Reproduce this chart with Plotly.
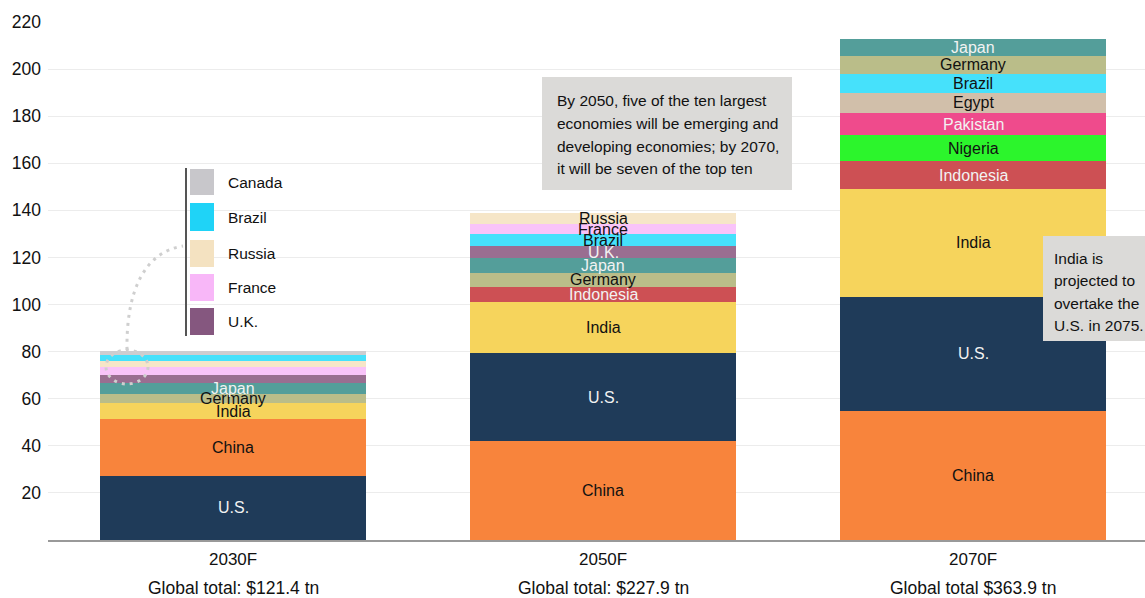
import plotly.graph_objects as go

# ---------------- data ----------------
year_labels = ["2030F", "2050F", "2070F"]
total_labels = ["Global total: $121.4 tn", "Global total: $227.9 tn", "Global total $363.9 tn"]

countries_2030 = ["U.S.", "China", "India", "Germany", "Japan", "U.K.", "France", "Russia", "Brazil", "Canada"]
values_2030 = [27.2, 24.3, 6.5, 4.2, 4.5, 3.4, 3.2, 2.8, 2.3, 2.0]
labels_2030 = ["U.S.", "China", "India", "Germany", "Japan", "", "", "", "", ""]

countries_2050 = ["China", "U.S.", "India", "Indonesia", "Germany", "Japan", "U.K.", "Brazil", "France", "Russia"]
values_2050 = [41.9, 37.4, 21.9, 6.4, 5.9, 6.1, 5.3, 4.9, 4.4, 4.8]
labels_2050 = countries_2050

countries_2070 = ["China", "U.S.", "India", "Indonesia", "Nigeria", "Pakistan", "Egypt", "Brazil", "Germany", "Japan"]
values_2070 = [54.8, 48.5, 45.7, 12.0, 10.8, 9.6, 8.6, 8.1, 7.4, 7.3]
labels_2070 = countries_2070

legend_items = ["Canada", "Brazil", "Russia", "France", "U.K."]

note_1 = ["By 2050, five of the ten largest", "economies will be emerging and",
          "developing economies; by 2070,", "it will be seven of the top ten"]
note_2 = ["India is", "projected to", "overtake the", "U.S. in 2075."]

# ---------------- styles ----------------
colors = {
    "U.S.": "#1f3b59", "China": "#f8843c", "India": "#f6d45c", "Indonesia": "#cd5054",
    "Germany": "#babd89", "Japan": "#549e9a", "U.K.": "#9a6e91", "Brazil": "#46e1fb",
    "France": "#f9c3f9", "Russia": "#f6e6c8", "Canada": "#cdcdd0", "Nigeria": "#2cf52c",
    "Pakistan": "#ef4b8c", "Egypt": "#d1bfaa",
}
legend_colors = {"Canada": "#c8c7cb", "Brazil": "#1fd3f7", "Russia": "#f4e2c1",
                 "France": "#f8b7f8", "U.K.": "#85577f"}
white_text = {"U.S.", "Japan", "U.K.", "Indonesia", "Pakistan"}
FONT = "Liberation Sans, Arial, sans-serif"

# plot-area geometry (pixels)
W_FIG, H_FIG = 1145, 598
L, R, T, B = 48, 1145, 22, 540
def px(x):
    return (x - L) / (R - L)
def py(y):
    return (B - y) / (B - T)

fig = go.Figure()
annotations = []

years = [(countries_2030, values_2030, labels_2030),
         (countries_2050, values_2050, labels_2050),
         (countries_2070, values_2070, labels_2070)]

for i, (cs, vs, lbs) in enumerate(years):
    cum = 0.0
    for c, v, lb in zip(cs, vs, lbs):
        fig.add_trace(go.Bar(
            x=[i], y=[v], base=[cum], width=0.72,
            marker=dict(color=colors[c], line=dict(width=0)),
            showlegend=False, hoverinfo="skip", name=c,
        ))
        if lb:
            annotations.append(dict(
                x=i, y=cum + v / 2, xref="x", yref="y", text=lb, showarrow=False,
                font=dict(family=FONT, size=16,
                          color="#f2f2f2" if c in white_text else "#111111"),
                xanchor="center", yanchor="middle",
            ))
        cum += v

# x category labels
for i, (yl, tl) in enumerate(zip(year_labels, total_labels)):
    annotations.append(dict(x=i, y=py(559), xref="x", yref="paper", text=yl,
                            showarrow=False, font=dict(family=FONT, size=17, color="#111"),
                            xanchor="center", yanchor="middle"))
    annotations.append(dict(x=i, y=py(588), xref="x", yref="paper", text=tl,
                            showarrow=False, font=dict(family=FONT, size=17.5, color="#111"),
                            xanchor="center", yanchor="middle"))

shapes = []
# legend
legend_boxes = [(169, 195), (203, 231), (240, 267), (274, 301), (308, 335)]
for name, (y0, y1) in zip(legend_items, legend_boxes):
    shapes.append(dict(type="rect", xref="paper", yref="paper",
                       x0=px(190), x1=px(214), y0=py(y1), y1=py(y0),
                       fillcolor=legend_colors[name], line=dict(width=0)))
    annotations.append(dict(x=px(226), y=py((y0 + y1) / 2), xref="paper", yref="paper",
                            text=name, showarrow=False, xanchor="left", yanchor="middle",
                            font=dict(family=FONT, size=15.5, color="#111")))
shapes.append(dict(type="line", xref="paper", yref="paper", x0=px(186), x1=px(186),
                   y0=py(168), y1=py(336), line=dict(color="#555555", width=2)))

# dotted callout
shapes.append(dict(type="circle", xref="paper", yref="paper",
                   x0=px(106), x1=px(148), y0=py(384), y1=py(350),
                   line=dict(color="#cfcfcf", width=3, dash="3px,5px")))
path = "M {},{} C {},{} {},{} {},{}".format(px(127), py(350), px(126), py(290),
                                           px(145), py(252), px(183), py(246))
shapes.append(dict(type="path", xref="paper", yref="paper", path=path,
                   line=dict(color="#cfcfcf", width=3, dash="3px,5px")))

# note boxes
shapes.append(dict(type="rect", xref="paper", yref="paper", x0=px(542), x1=px(792),
                   y0=py(190), y1=py(77), fillcolor="#dbdad8", line=dict(width=0)))
for txt, yc in zip(note_1, [100.7, 123.3, 146, 168.7]):
    annotations.append(dict(x=px(555), y=py(yc), xref="paper", yref="paper", text=txt,
                            showarrow=False, xanchor="left", yanchor="middle",
                            font=dict(family=FONT, size=15.5, color="#111")))
shapes.append(dict(type="rect", xref="paper", yref="paper", x0=px(1043), x1=px(1150),
                   y0=py(341), y1=py(236), fillcolor="#dbdad8", line=dict(width=0)))
for txt, yc in zip(note_2, [258, 280.5, 303, 325.5]):
    annotations.append(dict(x=px(1052), y=py(yc), xref="paper", yref="paper", text=txt,
                            showarrow=False, xanchor="left", yanchor="middle",
                            font=dict(family=FONT, size=15.5, color="#111")))

fig.update_layout(
    width=W_FIG, height=H_FIG,
    margin=dict(l=L, r=W_FIG - R, t=T, b=H_FIG - B, pad=0),
    paper_bgcolor="white", plot_bgcolor="white",
    barmode="overlay", bargap=0,
    font=dict(family=FONT, size=16, color="#111"),
    xaxis=dict(range=[-0.5, -0.5 + (R - L) / 370.0], showticklabels=False, showgrid=False,
               zeroline=False, showline=True, linecolor="#999999", linewidth=2,
               fixedrange=True),
    yaxis=dict(range=[0, 220], tickvals=list(range(20, 221, 20)), showgrid=True,
               gridcolor="#ececec", gridwidth=1, zeroline=False, showline=False,
               tickfont=dict(family=FONT, size=17.5, color="#111"), ticks="",
               ticklabelstandoff=6, fixedrange=True),
    shapes=shapes, annotations=annotations, showlegend=False,
)

fig.write_html("out.html", config={"displayModeBar": False},
               post_script="document.body.style.margin='0px';document.body.style.overflow='hidden';")
